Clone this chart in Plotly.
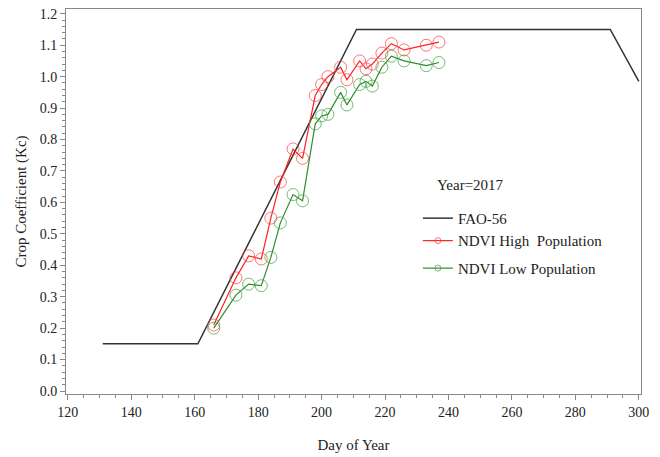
import plotly.graph_objects as go

# FAO-56 crop coefficient curve
fao_day = [131, 161, 211, 291, 300]
fao_kc = [0.15, 0.15, 1.15, 1.15, 0.985]

# NDVI-derived Kc
ndvi_day = [166, 173, 177, 181, 184, 187, 191, 194, 198, 200, 202, 206, 208,
            212, 214, 216, 219, 222, 226, 233, 237]
high_kc = [0.21, 0.36, 0.43, 0.42, 0.55, 0.665, 0.77, 0.74, 0.94, 0.975, 1.0,
           1.03, 0.99, 1.05, 1.025, 1.04, 1.075, 1.105, 1.085, 1.10, 1.11]
low_kc = [0.20, 0.305, 0.34, 0.335, 0.425, 0.535, 0.625, 0.605, 0.85, 0.875,
          0.88, 0.95, 0.91, 0.975, 0.985, 0.97, 1.03, 1.065, 1.05, 1.035, 1.045]

x_ticks = [120, 140, 160, 180, 200, 220, 240, 260, 280, 300]
y_ticks = [0.0, 0.1, 0.2, 0.3, 0.4, 0.5, 0.6, 0.7, 0.8, 0.9, 1.0, 1.1, 1.2]

FONT = "Liberation Serif"
RED_LINE, RED_MK = "#ff2020", "rgba(255,60,60,0.7)"
GRN_LINE, GRN_MK = "#2e8b2e", "rgba(60,160,60,0.7)"

fig = go.Figure()
fig.add_trace(go.Scatter(
    x=fao_day, y=fao_kc, mode="lines", name="FAO-56",
    line=dict(color="#333333", width=1.5), legendgroup="a"))
fig.add_trace(go.Scatter(
    x=ndvi_day, y=high_kc, mode="lines+markers", name="NDVI High  Population",
    line=dict(color=RED_LINE, width=1.2),
    marker=dict(symbol="circle-open", size=12, color=RED_MK, line=dict(width=1)),
    showlegend=False))
fig.add_trace(go.Scatter(
    x=ndvi_day, y=low_kc, mode="lines+markers", name="NDVI Low Population",
    line=dict(color=GRN_LINE, width=1.2),
    marker=dict(symbol="circle-open", size=12, color=GRN_MK, line=dict(width=1)),
    showlegend=False))
# legend entries with small markers (as in the reference key)
fig.add_trace(go.Scatter(
    x=[None], y=[None], mode="lines+markers", name="NDVI High  Population",
    line=dict(color=RED_LINE, width=1.2),
    marker=dict(symbol="circle-open", size=6, color=RED_MK, line=dict(width=1)),
    legendgroup="a"))
fig.add_trace(go.Scatter(
    x=[None], y=[None], mode="lines+markers", name="NDVI Low Population",
    line=dict(color=GRN_LINE, width=1.2),
    marker=dict(symbol="circle-open", size=6, color=GRN_MK, line=dict(width=1)),
    legendgroup="c"))

axis_common = dict(
    showline=True, linecolor="#888888", linewidth=1, mirror=True,
    ticks="outside", ticklen=5, tickcolor="#888888", tickwidth=1,
    showgrid=False, zeroline=False, automargin=False,
    tickfont=dict(family=FONT, size=14, color="#222222"),
)

fig.update_xaxes(
    range=[119.43, 300.69], tickvals=x_ticks,
    ticktext=[str(v) for v in x_ticks],
    title=dict(text="Day of Year", font=dict(family=FONT, size=15, color="#222222"),
               standoff=20),
    minor=dict(dtick=5, ticklen=3, tickcolor="#888888", ticks="outside"),
    **axis_common)
fig.update_yaxes(
    range=[-0.0095, 1.2152], tickvals=y_ticks,
    ticktext=[f"{v:.1f}" for v in y_ticks],
    title=dict(text="Crop Coefficient (Kc)",
               font=dict(family=FONT, size=15, color="#222222"), standoff=9),
    minor=dict(dtick=0.02, ticklen=3, tickcolor="#888888", ticks="outside"),
    **axis_common)

fig.update_layout(
    width=660, height=457,
    margin=dict(l=65.5, r=18.5, t=8.5, b=63),
    plot_bgcolor="white", paper_bgcolor="white",
    font=dict(family=FONT, size=14, color="#222222"),
    legend=dict(
        x=0.612, y=0.499, xanchor="left", yanchor="top",
        bgcolor="rgba(0,0,0,0)", tracegroupgap=5,
        font=dict(family=FONT, size=15),
    ),
    annotations=[dict(
        text="Year=2017", xref="paper", yref="paper", x=0.6415, y=0.542,
        xanchor="left", yanchor="middle", showarrow=False,
        font=dict(family=FONT, size=15, color="#222222"))],
)

fig.write_html("out.html",
               config={"displayModeBar": False},
               post_script="document.body.style.margin='0';document.body.style.overflow='hidden';")
